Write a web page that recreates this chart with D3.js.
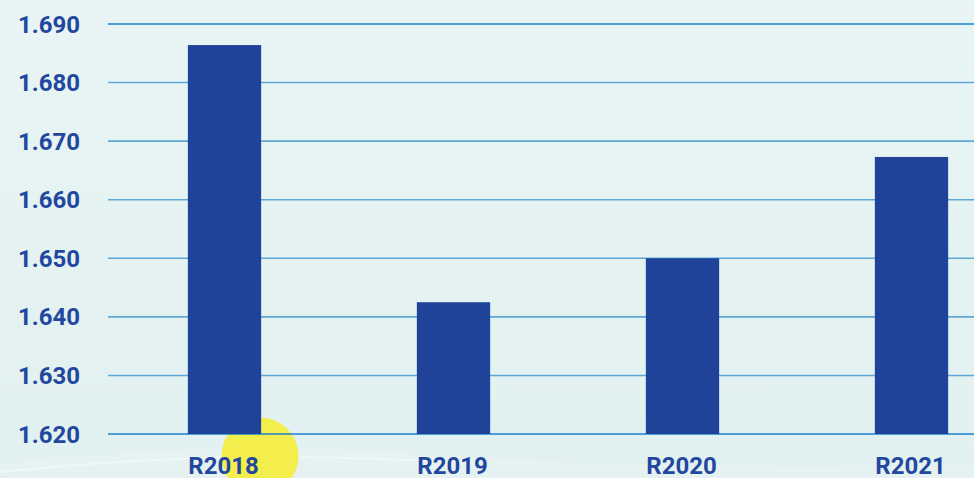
<!DOCTYPE html>
<html>
<head>
<meta charset="utf-8">
<script src="https://cdn.jsdelivr.net/npm/d3@7"></script>
<style>
  html, body { margin: 0; padding: 0; overflow: hidden; }
  svg { display: block; }
</style>
</head>
<body>
<svg id="chart"></svg>
<script>
// chart data
const categories = ['R2018', 'R2019', 'R2020', 'R2021'];
const values = [1.6864, 1.6425, 1.6500, 1.6673];
const yTicks = [1.62, 1.63, 1.64, 1.65, 1.66, 1.67, 1.68, 1.69];

const width = 974;
const height = 478;

const svg = d3.select('#chart')
  .attr('width', width)
  .attr('height', height);

// background gradient
const defs = svg.append('defs');
const grad = defs.append('linearGradient')
  .attr('id', 'bg')
  .attr('x1', 0).attr('y1', 0).attr('x2', 0).attr('y2', 1);
grad.append('stop').attr('offset', '0%').attr('stop-color', '#e9f5f5');
grad.append('stop').attr('offset', '100%').attr('stop-color', '#e1f0f0');

svg.append('rect')
  .attr('width', width)
  .attr('height', height)
  .attr('fill', 'url(#bg)');

// faint white wave at the bottom
svg.append('path')
  .attr('d', 'M0,478 L0,464 C120,450 260,444 420,454 C600,466 800,470 974,464 L974,478 Z')
  .attr('fill', '#ffffff')
  .attr('opacity', 0.18);
svg.append('path')
  .attr('d', 'M0,472 C150,456 300,452 480,464')
  .attr('fill', 'none')
  .attr('stroke', '#ffffff')
  .attr('stroke-width', 2)
  .attr('opacity', 0.35);

// yellow circle
svg.append('circle')
  .attr('cx', 260)
  .attr('cy', 456)
  .attr('r', 38.5)
  .attr('fill', '#f4ee4c');

// scales
const y = d3.scaleLinear()
  .domain([1.62, 1.69])
  .range([434, 24]);

const x = d3.scaleBand()
  .domain(categories)
  .range([110, 1026])
  .paddingInner(0.68)
  .paddingOuter(0.34);

// gridlines
svg.append('g')
  .selectAll('line')
  .data(yTicks)
  .enter()
  .append('line')
  .attr('x1', 108)
  .attr('x2', width)
  .attr('y1', d => y(d))
  .attr('y2', d => y(d))
  .attr('stroke', (d, i) => (i === 0 || i === yTicks.length - 1) ? '#1b80cc' : '#5ea8d8')
  .attr('stroke-width', 1.6);

// y labels
svg.append('g')
  .selectAll('text')
  .data(yTicks)
  .enter()
  .append('text')
  .attr('x', 18)
  .attr('y', d => y(d))
  .attr('dy', '0.36em')
  .attr('fill', '#22479e')
  .style('font-family', 'Roboto, sans-serif')
  .style('font-weight', 'bold')
  .style('font-size', '24px')
  .text(d => d3.format('.3f')(d));

// bars
svg.append('g')
  .selectAll('rect')
  .data(values)
  .enter()
  .append('rect')
  .attr('x', (d, i) => x(categories[i]))
  .attr('y', d => y(d))
  .attr('width', x.bandwidth())
  .attr('height', d => y(1.62) - y(d))
  .attr('fill', '#1e4399');

// x labels
svg.append('g')
  .selectAll('text')
  .data(categories)
  .enter()
  .append('text')
  .attr('x', d => x(d) + x.bandwidth() / 2 - 1)
  .attr('y', 474)
  .attr('text-anchor', 'middle')
  .attr('fill', '#22479e')
  .style('font-family', 'Roboto, sans-serif')
  .style('font-weight', 'bold')
  .style('font-size', '24px')
  .text(d => d);
</script>
</body>
</html>
